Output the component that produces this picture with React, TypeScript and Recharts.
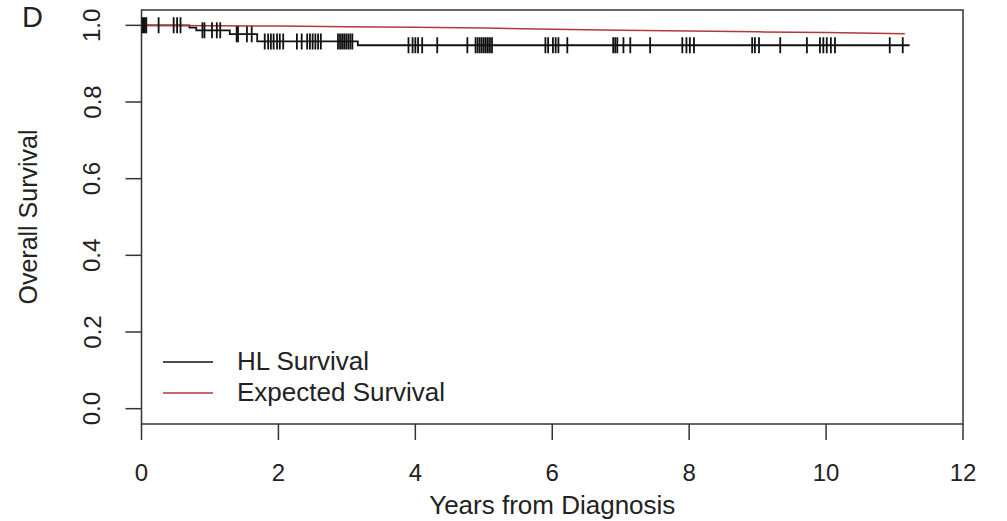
import React from 'react'
import { ComposedChart, Line, Scatter, XAxis, YAxis, ReferenceArea, Legend, Label } from 'recharts'

// Kaplan-Meier steps (years, survival)
const kmTimes = [0, 0.7, 0.8, 1.29, 1.69, 3.16, 11.22]
const kmSurv = [1.0, 0.994, 0.987, 0.977, 0.958, 0.948, 0.948]

// censored observations (years)
const censorTimes = [
  0.01, 0.03, 0.05, 0.07, 0.25, 0.47, 0.52, 0.57, 0.89, 0.92, 1.03, 1.1, 1.15, 1.39, 1.41, 1.54, 1.61,
  1.8, 1.85, 1.89, 1.93, 1.98, 2.02, 2.07, 2.27, 2.34, 2.42, 2.46, 2.5, 2.54, 2.58, 2.62,
  2.87, 2.9, 2.93, 2.96, 2.99, 3.02, 3.05, 3.08, 3.9, 3.96, 4.0, 4.04, 4.1, 4.32, 4.76,
  4.88, 4.91, 4.94, 4.97, 5.0, 5.03, 5.06, 5.09, 5.12, 5.9, 5.94, 6.01, 6.05, 6.09, 6.22,
  6.89, 6.92, 6.95, 7.04, 7.14, 7.43, 7.9, 7.96, 8.01, 8.07, 8.92, 8.96, 9.02, 9.33, 9.72,
  9.91, 9.96, 10.01, 10.07, 10.13, 10.93, 11.12,
]

// expected survival of matched population
const expTimes = [0, 1, 2, 3, 4, 5, 6, 7, 8, 9, 10, 11.15]
const expSurv = [1.0, 0.999, 0.998, 0.996, 0.995, 0.993, 0.99, 0.987, 0.985, 0.983, 0.981, 0.978]

const xTicks = [0, 2, 4, 6, 8, 10, 12]
const yTicks = [0, 0.2, 0.4, 0.6, 0.8, 1.0]

const legendOrder = ['HL Survival', 'Expected Survival']

const FONT = '"Liberation Sans", Arial, sans-serif'
const INK = '#222'

const kmData = kmTimes.map((t, i) => ({ t, s: kmSurv[i] }))
const expData = expTimes.map((t, i) => ({ t, s: expSurv[i] }))

function kmAt(t: number) {
  let s = kmSurv[0]
  kmTimes.forEach((kt, i) => {
    if (kt <= t) s = kmSurv[i]
  })
  return s
}
const censorData = censorTimes.map(t => ({ t, s: kmAt(t) }))

const CensorMark = (props: any) => {
  const { cx, cy } = props
  if (cx == null || cy == null) return null
  return <line x1={cx} x2={cx} y1={cy - 8} y2={cy + 8} stroke="#111" strokeWidth={1.8} />
}

const YTick = (props: any) => {
  const { x, y, payload } = props
  return (
    <text x={x} y={y} transform={`rotate(-90, ${x}, ${y})`} textAnchor="middle" fontSize={24} fontFamily={FONT} fill={INK}>
      {Number(payload.value).toFixed(1)}
    </text>
  )
}

const renderLegend = (props: any) => {
  const items = (props.payload || [])
    .filter((it: any) => legendOrder.includes(it.value))
    .sort((a: any, b: any) => legendOrder.indexOf(a.value) - legendOrder.indexOf(b.value))
  return (
    <div style={{ fontFamily: FONT, fontSize: 26, color: INK }}>
      {items.map((it: any) => (
        <div key={it.value} style={{ display: 'flex', alignItems: 'center', height: 31 }}>
          <svg width={50} height={10}>
            <line x1={0} x2={50} y1={5} y2={5} stroke={it.color} strokeWidth={1.5} />
          </svg>
          <span style={{ marginLeft: 24 }}>{it.value}</span>
        </div>
      ))}
    </div>
  )
}

export default function App() {
  return (
    <div style={{ position: 'absolute', left: 0, top: 0, width: 1007, height: 521, background: '#fff' }}>
      <div style={{ position: 'absolute', left: 22, top: 0, fontFamily: FONT, fontSize: 29, color: INK, lineHeight: '34px' }}>D</div>
      <ComposedChart width={1007} height={521} margin={{ top: 10, right: 44, bottom: 0, left: 0 }}>
        <XAxis
          dataKey="t"
          type="number"
          domain={[0, 12]}
          ticks={xTicks}
          allowDataOverflow
          height={97}
          axisLine={false}
          tickSize={16}
          tickMargin={24}
          tickLine={{ stroke: '#333', strokeWidth: 1.5 }}
          tick={{ fontSize: 24, fontFamily: FONT, fill: INK }}
        >
          <Label
            content={({ viewBox }: any) => (
              <text
                x={(viewBox?.x ?? 141.5) + (viewBox?.width ?? 821.5) / 2}
                y={(viewBox?.y ?? 424) + 90}
                textAnchor="middle"
                fontSize={26}
                fontFamily={FONT}
                fill={INK}
              >
                Years from Diagnosis
              </text>
            )}
          />
        </XAxis>
        <YAxis
          type="number"
          domain={[-0.04, 1.04]}
          ticks={yTicks}
          allowDataOverflow
          width={141.5}
          axisLine={false}
          tickSize={16}
          tickMargin={25}
          tickLine={{ stroke: '#333', strokeWidth: 1.5 }}
          tick={<YTick />}
        >
          <Label
            content={({ viewBox }: any) => {
              const y = (viewBox?.y ?? 10) + (viewBox?.height ?? 414) / 2
              return (
                <text x={37} y={y} transform={`rotate(-90, 37, ${y})`} textAnchor="middle" fontSize={25} fontFamily={FONT} fill={INK}>
                  Overall Survival
                </text>
              )
            }}
          />
        </YAxis>
        <ReferenceArea x1={0} x2={12} y1={-0.04} y2={1.04} fill="none" stroke="#333" strokeWidth={1.5} ifOverflow="visible" />
        <Line
          data={kmData}
          dataKey="s"
          name="HL Survival"
          type="stepAfter"
          stroke="#111"
          strokeWidth={1.8}
          dot={false}
          activeDot={false}
          isAnimationActive={false}
        />
        <Scatter data={censorData} dataKey="s" shape={<CensorMark />} legendType="none" isAnimationActive={false} />
        <Line
          data={expData}
          dataKey="s"
          name="Expected Survival"
          type="linear"
          stroke="#B03A3A"
          strokeWidth={1.5}
          dot={false}
          activeDot={false}
          isAnimationActive={false}
        />
        <Legend
          layout="vertical"
          align="center"
          verticalAlign="middle"
          content={renderLegend}
          wrapperStyle={{ left: 163, top: 346, width: 'auto', height: 'auto' }}
        />
      </ComposedChart>
    </div>
  )
}
